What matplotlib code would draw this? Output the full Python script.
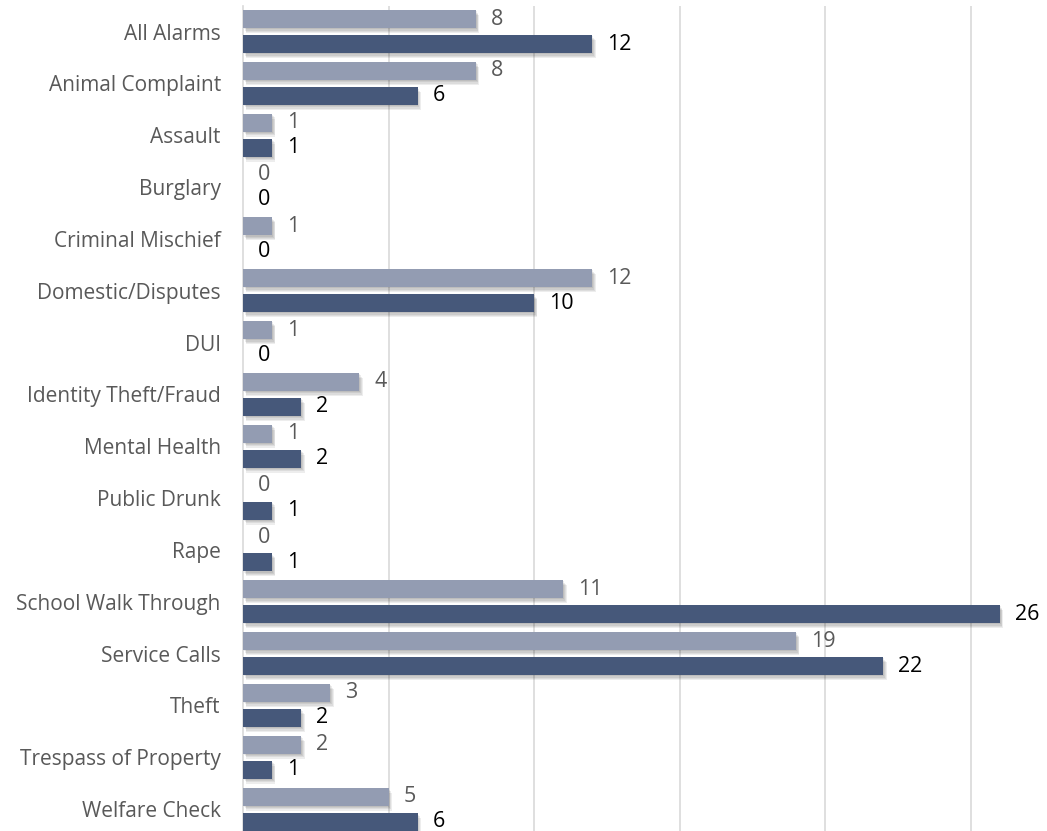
import matplotlib
matplotlib.use("Agg")
import matplotlib.pyplot as plt
import matplotlib.patheffects as pe
import numpy as np

categories = ["All Alarms", "Animal Complaint", "Assault", "Burglary", "Criminal Mischief",
              "Domestic/Disputes", "DUI", "Identity Theft/Fraud", "Mental Health", "Public Drunk",
              "Rape", "School Walk Through", "Service Calls", "Theft", "Trespass of Property",
              "Welfare Check"]
series_light = [8, 8, 1, 0, 1, 12, 1, 4, 1, 0, 0, 11, 19, 3, 2, 5]
series_dark = [12, 6, 1, 0, 0, 10, 0, 2, 2, 1, 1, 26, 22, 2, 1, 6]

LIGHT = "#939cb2"
DARK = "#46587a"

plt.rcParams['font.family'] = ['Open Sans', 'DejaVu Sans']

W, H = 1047, 831
fig = plt.figure(figsize=(W / 100, H / 100), dpi=100)
left = 243 / W
top_px, bot_px = 5.6, 835.0
ax = fig.add_axes([left, (H - bot_px) / H, 1 - left, (bot_px - top_px) / H])

n = len(categories)
y = np.arange(n)
bh = 0.347
off = 0.241
shadow = []
for k in range(1, 5):
    shadow.append(pe.SimplePatchShadow(offset=(0.6 * k, -0.9 * k), shadow_rgbFace="#000000", alpha=0.07))
shadow.append(pe.Normal())

b1 = ax.barh(y - off, series_light, height=bh, color=LIGHT, zorder=3)
b2 = ax.barh(y + off, series_dark, height=bh, color=DARK, zorder=3)
for b in list(b1) + list(b2):
    b.set_path_effects(shadow)

for yi, v in zip(y, series_light):
    ax.annotate(str(v), (v, yi - off), xytext=(15, 0), textcoords="offset pixels",
                va="center", ha="left", fontsize=15.5, color="#595959")
for yi, v in zip(y, series_dark):
    ax.annotate(str(v), (v, yi + off), xytext=(15, 0), textcoords="offset pixels",
                va="center", ha="left", fontsize=15.5, color="#000000")

ax.set_yticks(y)
ax.set_yticklabels(categories, fontsize=15, color="#595959")
ax.set_ylim(n - 0.5, -0.5)
ax.set_xlim(0, (W - 243) / 29.11)
ax.set_xticks([5, 10, 15, 20, 25])
ax.set_xticklabels([])
ax.tick_params(axis="both", length=0)
ax.tick_params(axis="y", pad=16)
ax.grid(axis="x", color="#d9d9d9", linewidth=1.2, zorder=0)
for s in ["top", "right", "bottom"]:
    ax.spines[s].set_visible(False)
ax.spines["left"].set_color("#d9d9d9")
ax.spines["left"].set_linewidth(1.2)

fig.savefig("out.png", dpi=100)
